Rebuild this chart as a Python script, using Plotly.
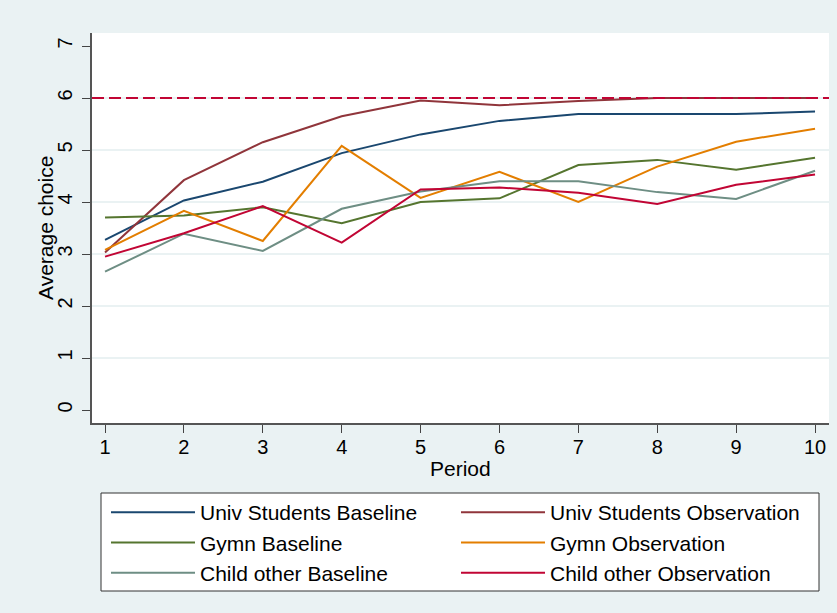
import plotly.graph_objects as go

periods = [1, 2, 3, 4, 5, 6, 7, 8, 9, 10]

univ_baseline = [3.27, 4.03, 4.39, 4.94, 5.30, 5.56, 5.69, 5.69, 5.69, 5.74]
univ_observation = [3.03, 4.42, 5.15, 5.65, 5.95, 5.86, 5.94, 6.00, 6.00, 6.00]
gymn_baseline = [3.70, 3.74, 3.90, 3.59, 4.00, 4.07, 4.71, 4.81, 4.62, 4.85]
gymn_observation = [3.08, 3.83, 3.25, 5.08, 4.08, 4.58, 4.00, 4.68, 5.16, 5.41]
child_baseline = [2.66, 3.39, 3.06, 3.87, 4.20, 4.40, 4.40, 4.19, 4.06, 4.60]
child_observation = [2.95, 3.40, 3.92, 3.22, 4.24, 4.28, 4.18, 3.96, 4.33, 4.53]

series_names = [
    "Univ Students Baseline", "Univ Students Observation",
    "Gymn Baseline", "Gymn Observation",
    "Child other Baseline", "Child other Observation",
]
series_values = [univ_baseline, univ_observation, gymn_baseline,
                 gymn_observation, child_baseline, child_observation]
colors = ["#1a476f", "#90353b", "#55752f", "#e37e00", "#6e8e84", "#c10534"]

reference_level = 6
y_ticks = [0, 1, 2, 3, 4, 5, 6, 7]
grid_ticks = [1, 2, 3, 4, 5, 6]
x_title = "Period"
y_title = "Average choice"

BG = "#eaf2f3"
FONT = "Liberation Sans, Arial, sans-serif"
W, H = 837, 613
ML, MR, MT, MB = 92, 8, 33, 190
PW, PH = W - ML - MR, H - MT - MB

def px_x(px):
    return (px - ML) / PW

def px_y(py):
    return (H - MB - py) / PH

fig = go.Figure()
for name, vals, col in zip(series_names, series_values, colors):
    fig.add_trace(go.Scatter(x=periods, y=vals, mode="lines", name=name,
                             line=dict(color=col, width=2)))

xr = [0.835, 10.177]
yr = [-0.25, 7.25]

# dashed reference line at y = 6 across the plot width
fig.add_trace(go.Scatter(x=xr, y=[reference_level, reference_level],
                         mode="lines", showlegend=False, hoverinfo="skip",
                         line=dict(color="#c10534", width=2, dash="12px,5px")))

# invisible trace on yaxis2 so that only inner gridlines are drawn
fig.add_trace(go.Scatter(x=[periods[0]], y=[grid_ticks[0]], yaxis="y2",
                         mode="lines", showlegend=False, hoverinfo="skip",
                         line=dict(width=0)))

# legend frame
fig.add_shape(type="rect", xref="paper", yref="paper",
              x0=px_x(101), x1=px_x(819), y0=px_y(591), y1=px_y(493),
              fillcolor="white", line=dict(color="#333", width=1), layer="below")

# axis titles
fig.add_annotation(text=x_title, xref="paper", yref="paper",
                   x=px_x(460.5), y=px_y(468), xanchor="center", yanchor="middle",
                   showarrow=False, font=dict(size=21))
fig.add_annotation(text=y_title, xref="paper", yref="paper",
                   x=px_x(45), y=px_y(228), xanchor="center", yanchor="middle",
                   textangle=-90, showarrow=False, font=dict(size=21))

fig.update_layout(
    width=W, height=H,
    paper_bgcolor=BG, plot_bgcolor="white",
    margin=dict(l=ML, r=MR, t=MT, b=MB, autoexpand=False),
    font=dict(family=FONT, size=20, color="black"),
    xaxis=dict(range=xr, tickvals=periods, ticks="outside",
               ticklen=8, tickcolor="#444", showgrid=False, zeroline=False,
               showline=True, linecolor="#555", linewidth=1.5,
               ticklabelstandoff=-3, tickfont=dict(size=20)),
    yaxis=dict(range=yr, tickvals=y_ticks, ticks="outside", ticklen=8,
               tickcolor="#444", showgrid=False, zeroline=False,
               showline=True, linecolor="#555", linewidth=1.5,
               tickangle=-90, ticklabelstandoff=2, tickfont=dict(size=20)),
    yaxis2=dict(range=yr, overlaying="y", tickvals=grid_ticks, showgrid=True,
                gridcolor=BG, gridwidth=2, showticklabels=False, zeroline=False,
                ticks=""),
    legend=dict(orientation="h", x=px_x(106), y=px_y(492), xanchor="left",
                yanchor="top", bgcolor="rgba(0,0,0,0)", borderwidth=0,
                font=dict(size=21), entrywidth=251, entrywidthmode="pixels",
                tracegroupgap=0, itemwidth=84),
    showlegend=True,
)

fig.write_html("out.html", config={"displayModeBar": False},
               post_script="document.body.style.margin='0px';")
